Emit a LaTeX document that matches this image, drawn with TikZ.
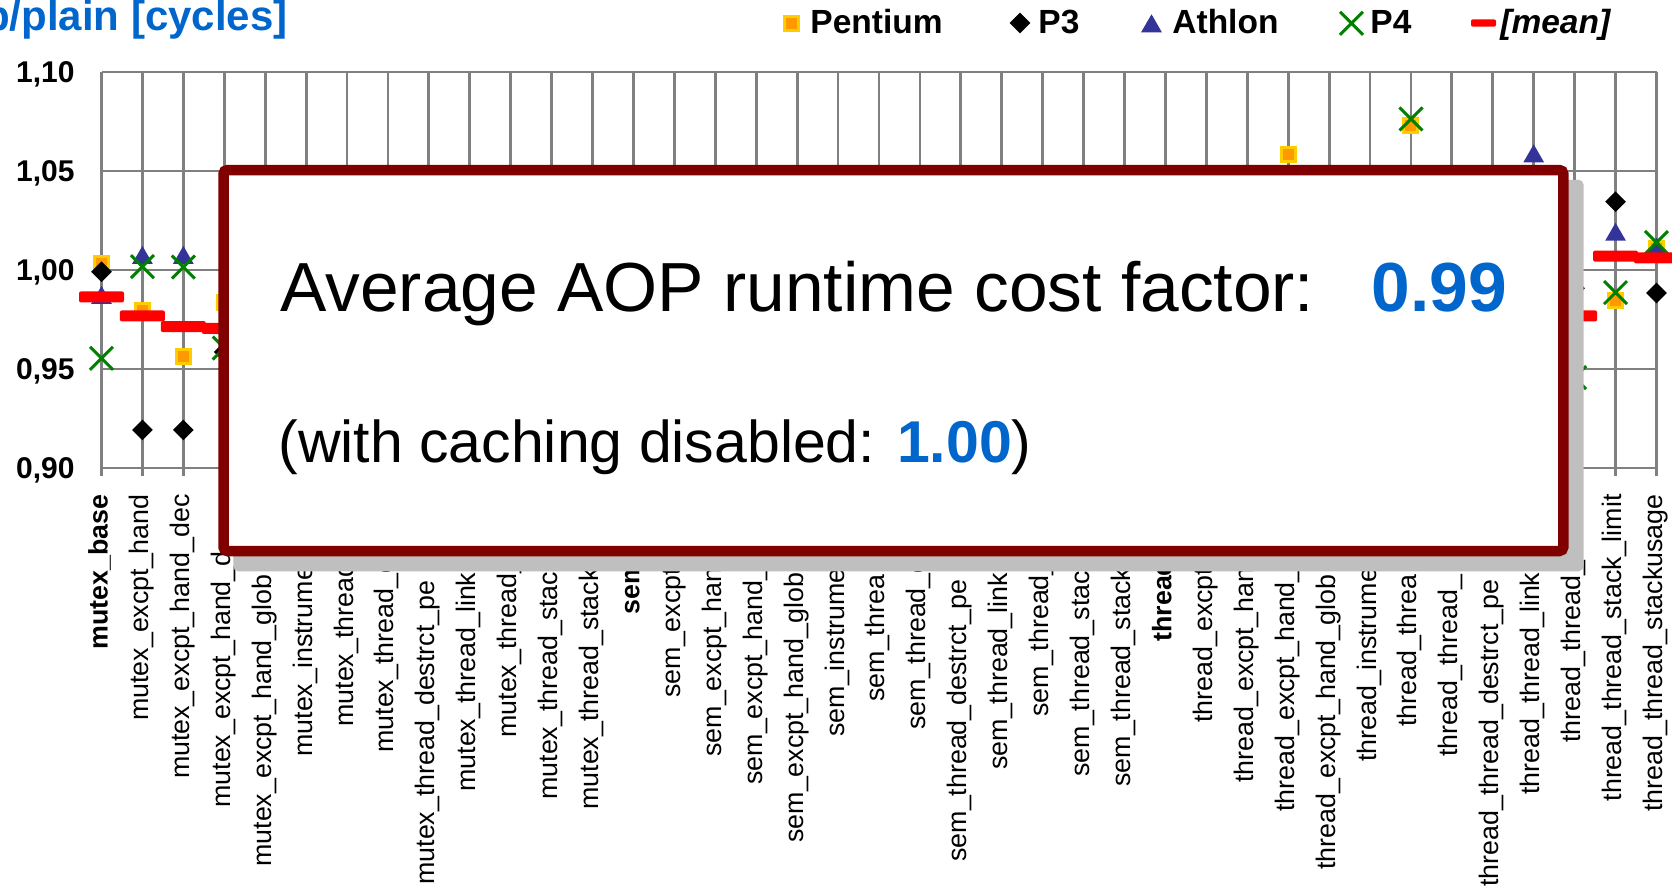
\documentclass[tikz,border=0pt]{standalone}
\usepackage{fontspec}
\setmainfont{Liberation Sans}
\usetikzlibrary{shapes.geometric,shapes.misc}
\definecolor{gridgray}{RGB}{128,128,128}
\definecolor{pentiumfill}{RGB}{255,153,0}
\definecolor{pentiumdraw}{RGB}{255,204,0}
\definecolor{athlonblue}{RGB}{51,51,153}
\definecolor{pfourgreen}{RGB}{0,128,0}
\definecolor{boxred}{RGB}{128,0,0}
\definecolor{shadowgray}{RGB}{191,191,191}
\definecolor{aopblue}{RGB}{0,102,204}
\begin{document}
\begin{tikzpicture}
[x=0.5pt,y=-0.5pt,
  gridline/.style={draw=gridgray,line width=1.4pt},%
  pentiumdecorate/.style={shape=rectangle,fill=pentiumfill,draw=pentiumdraw,
    line width=1.5pt,minimum size=7pt,inner sep=0pt},%
  pthreedecorate/.style={shape=diamond,fill=black,minimum width=10.5pt,
    minimum height=10.5pt,inner sep=0pt},%
  athlondecorate/.style={regular polygon,regular polygon sides=3,
    fill=athlonblue,minimum size=12pt,inner sep=0pt},%
  pfourdecorate/.style={cross out,draw=pfourgreen,line width=1.5pt,
    minimum size=10pt,inner sep=0pt},%
  meandecorate/.style={shape=rectangle,fill=red,minimum width=22.5pt,
    minimum height=5.5pt,inner sep=0pt,rounded corners=1pt},%
  catlabel/.style={rotate=90,inner sep=0pt,text height=0.8em,text depth=0.2em,
    font=\fontsize{13.4pt}{16pt}\selectfont},%
  axislabel/.style={anchor=base east,inner sep=0pt,
    font=\fontsize{15pt}{18pt}\selectfont\bfseries},%
  legendtext/.style={anchor=base west,inner sep=0pt,
    font=\fontsize{16.75pt}{20pt}\selectfont\bfseries}]
%%
\useasboundingbox (0,0) rectangle (1672,889);
\fill[white] (0,0) rectangle (1672,889);
%%
%% grid
\foreach \y in {72,171,270,369,468} {
  \draw[gridline] (101.5,\y) -- (1656.5,\y);
}
\foreach \i in {0,...,38} {
  \draw[gridline] ({101.5+40.92*\i},72) -- ({101.5+40.92*\i},476);
}
%% y axis
\foreach \y/\val in {72/{1,10}, 171/{1,05}, 270/{1,00}, 369/{0,95}, 468/{0,90}} {
  \node (ylab\y) at (75,{\y+10}) [axislabel] {\val};
}
%%
%% series: Pentium, P3, Athlon, P4, mean
\foreach \i/\v in {0/1.0035, 1/0.9798, 2/0.9562, 3/0.9838, 29/1.0583,
  32/1.0732, 37/0.9848, 38/1.0111} {
  \node (pentium\i) at ({101.5+40.92*\i},{270-(\v-1)*1980}) [pentiumdecorate] {};
}
\foreach \i/\v in {0/0.9991, 1/0.9192, 2/0.9192, 3/0.9586, 36/0.9908,
  37/1.0345, 38/0.9884} {
  \node (pthree\i) at ({101.5+40.92*\i},{270-(\v-1)*1980}) [pthreedecorate] {};
}
\foreach \i/\v in {0/0.9859, 1/1.0061, 2/1.0061, 3/0.9707, 35/1.0574,
  37/1.0178, 38/1.0101} {
  \node (athlon\i) at ({101.5+40.92*\i},{270-(\v-1)*1980}) [athlondecorate] {};
}
\foreach \i/\v in {0/0.9554, 1/1.0017, 2/1.0015, 3/0.9606, 32/1.0763,
  36/0.9457, 37/0.9886, 38/1.0139} {
  \node (pfour\i) at ({101.5+40.92*\i},{270-(\v-1)*1980}) [pfourdecorate] {};
}
\foreach \i/\v in {0/0.9864, 1/0.9768, 2/0.9714, 3/0.9705, 36/0.9768,
  37/1.0070, 38/1.0061} {
  \node (mean\i) at ({101.5+40.92*\i},{270-(\v-1)*1980}) [meandecorate] {};
}
%%
%% category labels
\foreach \i/\name in {0/{\textbf{mutex\_base}}, 1/mutex\_excpt\_hand,
  2/mutex\_excpt\_hand\_dec, 37/thread\_thread\_stack\_limit,
  38/thread\_thread\_stackusage} {
  \node (cat\i) at ({101.5+40.92*\i},494) [catlabel,anchor=east] {\name};
}
\foreach \i/\name/\bottom in {3/mutex\_excpt\_hand\_d/808,
  4/mutex\_excpt\_hand\_glob/867, 5/mutex\_instrume/757, 6/mutex\_thread/727,
  7/mutex\_thread\_c/753, 8/mutex\_thread\_destrct\_pe/885,
  9/mutex\_thread\_link/792, 10/mutex\_thread\_/738, 11/mutex\_thread\_stac/800,
  12/mutex\_thread\_stack/810, 13/{\textbf{sem}}/615, 14/sem\_excpt/698,
  15/sem\_excpt\_han/757, 16/sem\_excpt\_hand\_/785,
  17/sem\_excpt\_hand\_glob/843, 18/sem\_instrume/737, 19/sem\_threa/702,
  20/sem\_thread\_c/730, 21/sem\_thread\_destrct\_pe/862,
  22/sem\_thread\_link/770, 23/sem\_thread\_/717, 24/sem\_thread\_stac/777,
  25/sem\_thread\_stack/787, 26/{\textbf{thread}}/642, 27/thread\_excpt/723,
  28/thread\_excpt\_han/783, 29/thread\_excpt\_hand\_/812,
  30/thread\_excpt\_hand\_glob/870, 31/thread\_instrume/762,
  32/thread\_threa/727, 33/thread\_thread\_/757,
  34/thread\_thread\_destrct\_pe/887, 35/thread\_thread\_link/795,
  36/thread\_thread\_/743} {
  \node (cat\i) at ({101.5+40.92*\i},\bottom) [catlabel,anchor=west] {\name};
}
%%
%% result box with shadow
\fill[shadowgray,rounded corners=2.5pt] (233.25,179.75) rectangle (1583.55,571.25);
\draw[boxred,line width=5.25pt,fill=white,rounded corners=2pt]
  (223.5,170) rectangle (1563.3,551);
\node (factor) at (280,311) [anchor=base west,inner sep=0pt,
  font=\fontsize{34.75pt}{40pt}\selectfont] {Average AOP runtime cost factor:};
\node (factorval) at (1371,311) [anchor=base west,inner sep=0pt,text=aopblue,
  font=\fontsize{34.75pt}{40pt}\selectfont\bfseries] {0.99};
\node (nocache) at (278,462) [anchor=base west,inner sep=0pt,
  font=\fontsize{29.5pt}{34pt}\selectfont]
  {(with caching disabled: \textcolor{aopblue}{\textbf{1.00}})};
%%
%% legend
\node (legpentium) at (791.5,23) [pentiumdecorate] {};
\node (legpthree) at (1020,23) [pthreedecorate] {};
\node (legathlon) at (1151.5,26.3) [athlondecorate] {};
\node (legpfour) at (1351.5,23.3) [pfourdecorate] {};
\node (legmean) at (1483.5,23) [meandecorate,minimum width=12.5pt,
  minimum height=3.7pt] {};
\node (txtpentium) at (810,33.3) [legendtext] {Pentium};
\node (txtpthree) at (1038,33.3) [legendtext] {P3};
\node (txtathlon) at (1172,33.3) [legendtext] {Athlon};
\node (txtpfour) at (1370,33.3) [legendtext] {P4};
\node (txtmean) at (1500,33.3) [legendtext,font=\fontsize{16.75pt}{20pt}\selectfont\bfseries\itshape] {[mean]};
%%
%% title
\node (title) at (288,30) [anchor=base east,inner sep=0pt,text=aopblue,
  font=\fontsize{21pt}{25pt}\selectfont\bfseries] {p/plain [cycles]};
\end{tikzpicture}
\end{document}
